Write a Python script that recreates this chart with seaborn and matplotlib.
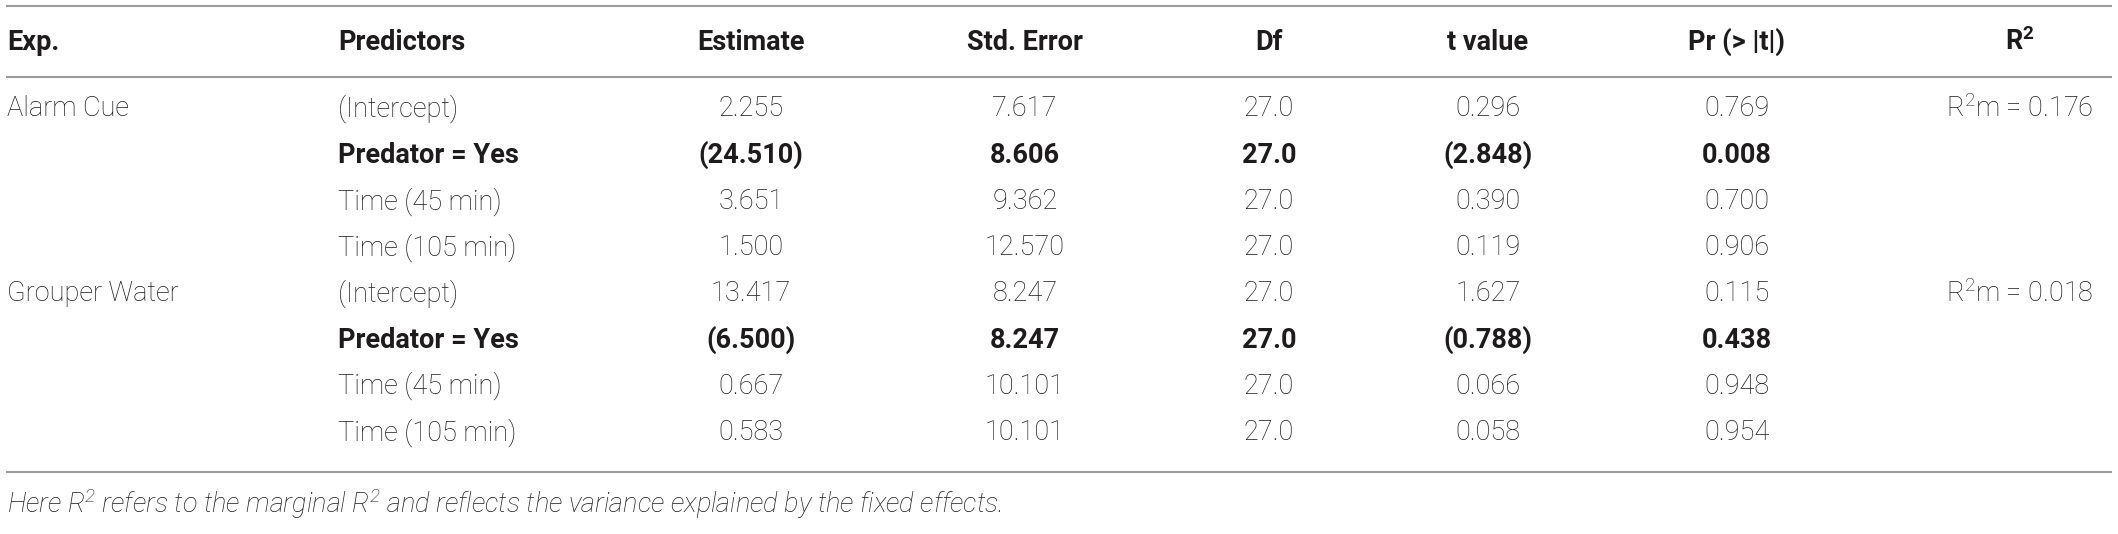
import matplotlib
matplotlib.use("Agg")
import matplotlib.pyplot as plt
import seaborn as sns
import pandas as pd

# table content
experiments = ["Alarm Cue", "Grouper Water"]
predictors = ["(Intercept)", "Predator = Yes", "Time (45 min)", "Time (105 min)"]
estimate = ["2.255", "(24.510)", "3.651", "1.500", "13.417", "(6.500)", "0.667", "0.583"]
std_error = ["7.617", "8.606", "9.362", "12.570", "8.247", "8.247", "10.101", "10.101"]
df_values = ["27.0", "27.0", "27.0", "27.0", "27.0", "27.0", "27.0", "27.0"]
t_value = ["0.296", "(2.848)", "0.390", "0.119", "1.627", "(0.788)", "0.066", "0.058"]
pr_t = ["0.769", "0.008", "0.700", "0.906", "0.115", "0.438", "0.948", "0.954"]
r2_marginal = ["0.176", "0.018"]
headers = ["Exp.", "Predictors", "Estimate", "Std. Error", "Df", "t value", "Pr (> |t|)", "R$^2$"]
footnote = ("Here $R^2$ refers to the marginal $R^2$ and reflects the variance "
            "explained by the fixed effects.")

rows = pd.DataFrame({
    "exp": [e if i == 0 else "" for e in experiments for i in range(len(predictors))],
    "pred": predictors * len(experiments),
    "est": estimate,
    "se": std_error,
    "df": df_values,
    "t": t_value,
    "p": pr_t,
    "r2": ["R$^2$m = " + r if i == 0 else "" for r in r2_marginal for i in range(len(predictors))],
})
rows["bold"] = rows["pred"] == "Predator = Yes"

sns.set_theme(style="white")
plt.rcParams["font.family"] = ["Roboto", "DejaVu Sans"]
plt.rcParams["mathtext.default"] = "regular"

W, H = 2118, 534
fig = plt.figure(figsize=(W / 100, H / 100), dpi=100)
ax = fig.add_axes([0, 0, 1, 1])
ax.set_xlim(0, W)
ax.set_ylim(H, 0)
ax.axis("off")

ink = "#1e1b1c"
rule = "#9a9a9a"
fs = 19.5

# column layout: (key, x, alignment)
columns = [("exp", 7, "left"), ("pred", 338, "left"), ("est", 751, "center"),
           ("se", 1025, "center"), ("df", 1269, "center"), ("t", 1488, "center"),
           ("p", 1737, "center"), ("r2", 2020, "center")]

header_y = 42
row_y0, row_step = 109, 46.2

for (key, x, ha), label in zip(columns, headers):
    ax.text(x, header_y, label, ha=ha, va="center", fontsize=fs,
            fontweight="bold", color=ink)

for i, row in rows.iterrows():
    y = row_y0 + i * row_step
    for key, x, ha in columns:
        bold = row["bold"] and key not in ("exp", "r2")
        ax.text(x, y, row[key], ha=ha, va="center", fontsize=fs, color=ink,
                fontweight="bold" if bold else "light")

for y in (6, 77, 472):
    ax.plot([6, 2112], [y, y], color=rule, lw=1.5, solid_capstyle="butt")

ax.text(7, 504, footnote, ha="left", va="center", fontsize=fs, color=ink,
        style="italic", fontweight="light")

fig.savefig("out.png", dpi=100)
